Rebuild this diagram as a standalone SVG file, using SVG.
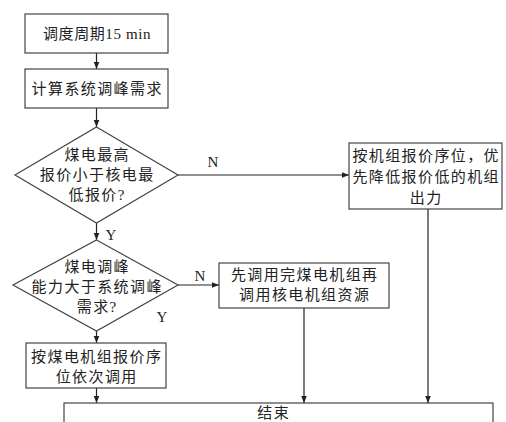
<svg xmlns="http://www.w3.org/2000/svg" width="506" height="422" viewBox="0 0 506 422">
<style>
.n{fill:#fff;stroke:#444;stroke-width:1.2}
.c{fill:none;stroke:#222;stroke-width:1.2}
text{font-family:"Liberation Serif","Noto Sans CJK SC",serif;font-size:15px;fill:#222;text-anchor:middle;dominant-baseline:central;letter-spacing:1.4px}
.l{font-family:"Liberation Serif",serif;font-size:15px;letter-spacing:0}
</style>
<defs>
<marker id="a" viewBox="0 0 10 10" refX="10" refY="5" markerWidth="7" markerHeight="7" markerUnits="userSpaceOnUse" orient="auto"><path d="M0,1 L10,5 L0,9 z" fill="#222"/></marker>
</defs>
<rect width="506" height="422" fill="#fff"/>
<g id="connectors">
<line class="c" x1="96.5" y1="53" x2="96.5" y2="69" marker-end="url(#a)"/>
<line class="c" x1="96.5" y1="108" x2="96.5" y2="127" marker-end="url(#a)"/>
<line class="c" x1="178" y1="175" x2="349" y2="175" marker-end="url(#a)"/>
<line class="c" x1="96.5" y1="223" x2="96.5" y2="240" marker-end="url(#a)"/>
<line class="c" x1="178" y1="285" x2="219" y2="285" marker-end="url(#a)"/>
<line class="c" x1="96.5" y1="331" x2="96.5" y2="343" marker-end="url(#a)"/>
<line class="c" x1="96.5" y1="388" x2="96.5" y2="403" marker-end="url(#a)"/>
<line class="c" x1="304" y1="308" x2="304" y2="403" marker-end="url(#a)"/>
<line class="c" x1="428" y1="209" x2="428" y2="403" marker-end="url(#a)"/>
<text class="l" x="213" y="162">N</text>
<text class="l" x="111" y="235">Y</text>
<text class="l" x="200" y="276">N</text>
<text class="l" x="162" y="317">Y</text>
</g>
<g id="start">
<rect class="n" x="25" y="14" width="143" height="39"/>
<text x="97" y="34" style="letter-spacing:0.6px">调度周期15 min</text>
</g>
<g id="calc">
<rect class="n" x="25" y="69" width="143" height="39"/>
<text x="97.2" y="88.5">计算系统调峰需求</text>
</g>
<g id="d1">
<polygon class="n" points="96.5,127 178,175 96.5,223 15,175"/>
<text x="97.2" y="155">煤电最高</text>
<text x="97.2" y="175">报价小于核电最</text>
<text x="97.2" y="195">低报价?</text>
</g>
<g id="d2">
<polygon class="n" points="96.5,240 178,285 96.5,331 13,285"/>
<text x="97.2" y="267">煤电调峰</text>
<text x="97.2" y="287">能力大于系统调峰</text>
<text x="97.2" y="307">需求?</text>
</g>
<g id="coal">
<rect class="n" x="26" y="343" width="140" height="45"/>
<text x="96.7" y="357">按煤电机组报价序</text>
<text x="96.7" y="377">位依次调用</text>
</g>
<g id="both">
<rect class="n" x="219" y="263" width="170" height="45"/>
<text x="304.7" y="275">先调用完煤电机组再</text>
<text x="304.7" y="295">调用核电机组资源</text>
</g>
<g id="order">
<rect class="n" x="349" y="143" width="153" height="66"/>
<text x="426.2" y="156">按机组报价序位，优</text>
<text x="426.2" y="177">先降低报价低的机组</text>
<text x="426.2" y="198">出力</text>
</g>
<g id="end">
<rect class="n" x="64" y="403" width="429" height="30"/>
<text x="273.7" y="413">结束</text>
</g>
</svg>
